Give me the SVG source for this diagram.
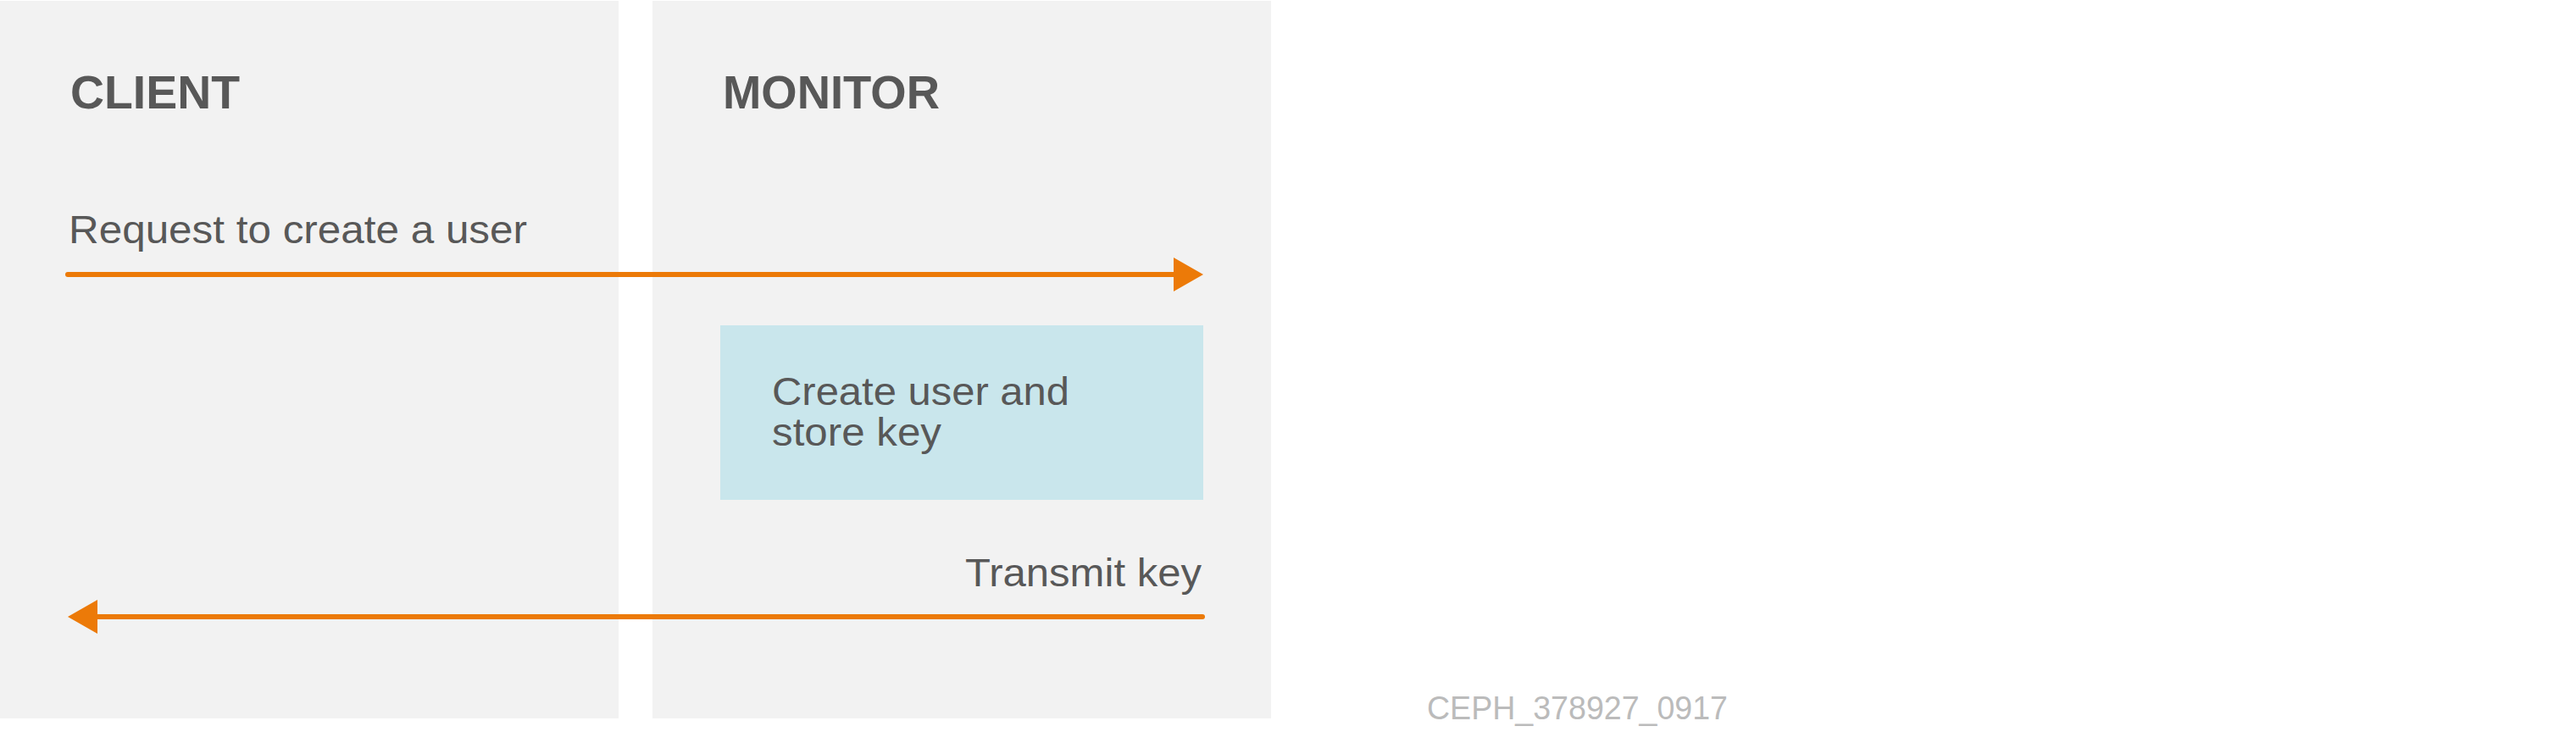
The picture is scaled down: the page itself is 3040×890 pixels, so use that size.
<svg xmlns="http://www.w3.org/2000/svg" width="3040" height="890" viewBox="0 0 3040 890">
<style>
.panel{fill:#f2f2f2}
.head{font-family:"Liberation Sans",Arial,sans-serif;font-weight:bold;font-size:56px;fill:#585858}
.lbl{font-family:"Liberation Sans",Arial,sans-serif;font-size:46px;fill:#585858}
.conn{stroke:#ec7a08;stroke-width:6;stroke-linecap:round;fill:none}
.head-arrow{fill:#ec7a08}
.code{font-family:"Liberation Sans",Arial,sans-serif;font-size:39px;fill:#bbbbbb}
</style>
<rect width="3040" height="890" fill="#ffffff"/>
<g id="client">
<rect class="panel" x="0" y="1" width="730" height="847"/>
<text class="head" x="83" y="128" textLength="200" lengthAdjust="spacingAndGlyphs">CLIENT</text>
</g>
<g id="monitor">
<rect class="panel" x="770" y="1" width="730" height="847"/>
<text class="head" x="853" y="128" textLength="256" lengthAdjust="spacingAndGlyphs">MONITOR</text>
</g>
<g id="create-user">
<rect x="850" y="384" width="570" height="206" fill="#c9e6ec"/>
<text class="lbl" x="911" y="478" textLength="351" lengthAdjust="spacingAndGlyphs">Create user and</text>
<text class="lbl" x="911" y="526" textLength="200" lengthAdjust="spacingAndGlyphs">store key</text>
</g>
<g id="connectors">
<line class="conn" x1="80" y1="324" x2="1390" y2="324"/>
<polygon class="head-arrow" points="1385,304 1420,324 1385,344"/>
<text class="lbl" x="81" y="287" textLength="541" lengthAdjust="spacingAndGlyphs">Request to create a user</text>
<line class="conn" x1="110" y1="728" x2="1419" y2="728"/>
<polygon class="head-arrow" points="115,708 80,728 115,748"/>
<text class="lbl" x="1418" y="692" text-anchor="end" textLength="279" lengthAdjust="spacingAndGlyphs">Transmit key</text>
</g>
<text class="code" x="1684" y="849" textLength="355" lengthAdjust="spacingAndGlyphs">CEPH_378927_0917</text>
</svg>
